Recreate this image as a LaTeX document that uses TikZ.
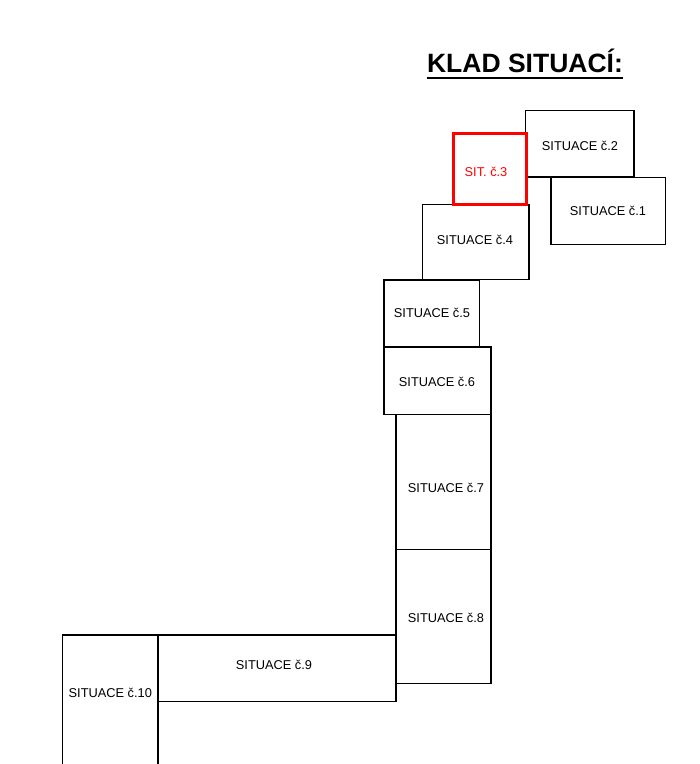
\documentclass[tikz,border=0pt]{standalone}
\usepackage{fontspec}
\setmainfont{Liberation Sans}
\usetikzlibrary{calc}
\begin{document}
\begin{tikzpicture}[x=1pt,y=-1pt,
  box/.style={draw=black, line width=1.4pt, inner sep=0pt},
  redbox/.style={draw=red, line width=3pt, inner sep=0pt},
  lbl/.style={inner sep=0pt, font=\fontsize{12.8}{14}\selectfont, text=black},
  redlbl/.style={lbl, text=red}]
\useasboundingbox (0,0) rectangle (700,764);
\clip (0,0) rectangle (700,764);
% title
\node[anchor=base, inner sep=0pt, font=\bfseries\fontsize{26.5}{28}\selectfont] (title) at (525,72) {KLAD SITUACÍ:};
\draw[line width=2.5pt] ($(title.base west)+(0,6)$) -- ($(title.base east)+(0,6)$);
% boxes
\node[box, minimum width=108.7pt, minimum height=66.5pt] (b2) at (579.6,143.7) {};
\node[box, minimum width=114.7pt, minimum height=66.6pt] (b1) at (608.3,211.0) {};
\node[box, minimum width=106.3pt, minimum height=75pt] (b4) at (475.8,241.7) {};
\node[box, minimum width=95.3pt, minimum height=67.3pt] (b5) at (431.7,313.6) {};
\node[box, minimum width=107pt, minimum height=67.3pt] (b6) at (437.5,380.8) {};
\node[box, minimum width=95pt, minimum height=135pt] (b7) at (443.5,481.7) {};
\node[box, minimum width=95pt, minimum height=134pt] (b8) at (443.5,616.2) {};
\node[box, minimum width=238.3pt, minimum height=66.7pt] (b9) at (276.9,668.4) {};
\node[box, minimum width=95.3pt, minimum height=170pt] (b10) at (110.3,720) {};
\node[redbox, minimum width=72.7pt, minimum height=71pt] (b3) at (489.7,168.8) {};
% labels
\node[lbl] (l2) at (580,146) {SITUACE č.2};
\node[lbl] (l1) at (608,211) {SITUACE č.1};
\node[redlbl] (l3) at (486,172) {SIT. č.3};
\node[lbl] (l4) at (475,240) {SITUACE č.4};
\node[lbl] (l5) at (432,313) {SITUACE č.5};
\node[lbl] (l6) at (437,382) {SITUACE č.6};
\node[lbl] (l7) at (446,488) {SITUACE č.7};
\node[lbl] (l8) at (446,618) {SITUACE č.8};
\node[lbl] (l9) at (274,665) {SITUACE č.9};
\node[lbl] (l10) at (110.3,692.5) {SITUACE č.10};
\end{tikzpicture}
\end{document}
